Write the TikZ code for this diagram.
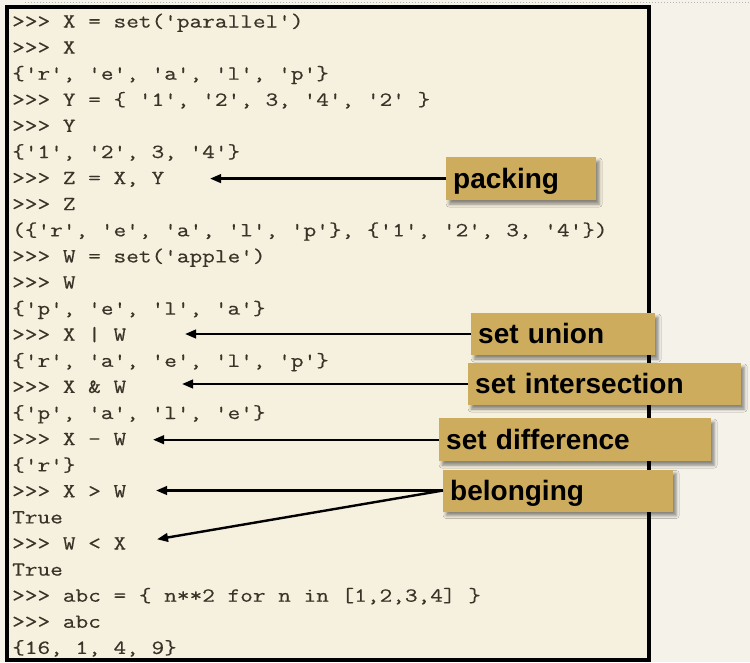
\documentclass[tikz,border=0pt]{standalone}
\usepackage{fontspec}
\setmonofont{Latin Modern Mono}[FakeStretch=1.23,FakeBold=0.45]
\setsansfont{Liberation Sans}
\usetikzlibrary{arrows.meta,shadows.blur}
\definecolor{pagebg}{HTML}{F5F2E9}
\definecolor{cream}{HTML}{F6F0DE}
\definecolor{codeink}{HTML}{3A3328}
\definecolor{gold}{HTML}{CDAD5D}
\tikzset{
  code/.style={anchor=base west, inner sep=0pt, text=codeink,
    font=\ttfamily\fontsize{20}{22}\selectfont},
  lbl/.style={fill=gold, anchor=west, inner xsep=7pt, inner ysep=0pt,
    text height=20pt, text depth=1pt, align=left,
    font=\sffamily\bfseries\fontsize{28}{30}\selectfont,
    blur shadow={shadow xshift=3pt, shadow yshift=-4pt,
      shadow blur radius=3pt, shadow opacity=45}},
  pointer/.style={line width=2.4pt, -{Triangle[length=11pt,width=8.5pt]}}
}
\begin{document}
\begin{tikzpicture}[x=1pt,y=-1pt]
\useasboundingbox (0,0) rectangle (750,662);
\fill[pagebg] (0,0) rectangle (750,662);
\draw[gray!60, line width=1pt, dotted] (25,2) -- (750,2);
\draw[line width=4pt, fill=cream] (7,7) rectangle (649,660);
% code lines
\node[code] (l1)  at (12,27.5)  {>>> X = set('parallel')};
\node[code] (l2)  at (12,53.6)  {>>> X};
\node[code] (l3)  at (12,79.7)  {\{'r', 'e', 'a', 'l', 'p'\}};
\node[code] (l4)  at (12,105.8) {>>> Y = \{ '1', '2', 3, '4', '2' \}};
\node[code] (l5)  at (12,131.9) {>>> Y};
\node[code] (l6)  at (12,158.0) {\{'1', '2', 3, '4'\}};
\node[code] (l7)  at (12,184.1) {>>> Z = X, Y};
\node[code] (l8)  at (12,210.2) {>>> Z};
\node[code] (l9)  at (12,236.3) {(\{'r', 'e', 'a', 'l', 'p'\}, \{'1', '2', 3, '4'\})};
\node[code] (l10) at (12,262.4) {>>> W = set('apple')};
\node[code] (l11) at (12,288.5) {>>> W};
\node[code] (l12) at (12,314.6) {\{'p', 'e', 'l', 'a'\}};
\node[code] (l13) at (12,340.7) {>>> X | W};
\node[code] (l14) at (12,366.8) {\{'r', 'a', 'e', 'l', 'p'\}};
\node[code] (l15) at (12,392.9) {>>> X \& W};
\node[code] (l16) at (12,419.0) {\{'p', 'a', 'l', 'e'\}};
\node[code] (l17) at (12,445.1) {>>> X - W};
\node[code] (l18) at (12,471.2) {\{'r'\}};
\node[code] (l19) at (12,497.3) {>>> X > W};
\node[code] (l20) at (12,523.4) {True};
\node[code] (l21) at (12,549.5) {>>> W < X};
\node[code] (l22) at (12,575.6) {True};
\node[code] (l23) at (12,601.7) {>>> abc = \{ n**2 for n in [1,2,3,4] \}};
\node[code] (l24) at (12,627.8) {>>> abc};
\node[code] (l25) at (12,653.9) {\{16, 1, 4, 9\}};
% label boxes
\node[lbl, minimum width=150pt, minimum height=43pt, text width=136pt] (packing) at (446,178.6) {packing};
\node[lbl, minimum width=184pt, minimum height=42pt, text width=170pt] (union) at (471,334) {set union};
\node[lbl, minimum width=273pt, minimum height=42pt, text width=259pt] (inter) at (468,384) {set intersection};
\node[lbl, minimum width=272pt, minimum height=43pt, text width=258pt] (diff) at (439,439.7) {set difference};
\node[lbl, minimum width=230pt, minimum height=42pt, text width=216pt] (belong) at (443,490.5) {belonging};
% arrow targets
\coordinate (tZ) at (210,178.6);
\coordinate (tU) at (185,334);
\coordinate (tI) at (182,384);
\coordinate (tD) at (153,439.7);
\coordinate (tB1) at (156,490.5);
\coordinate (tB2) at (157,539.3);
\draw[pointer] (packing.west) -- (tZ);
\draw[pointer] (union.west) -- (tU);
\draw[pointer] (inter.west) -- (tI);
\draw[pointer] (diff.west) -- (tD);
\draw[pointer] (belong.west) -- (tB1);
\draw[pointer] (belong.west) -- (tB2);
\end{tikzpicture}
\end{document}
